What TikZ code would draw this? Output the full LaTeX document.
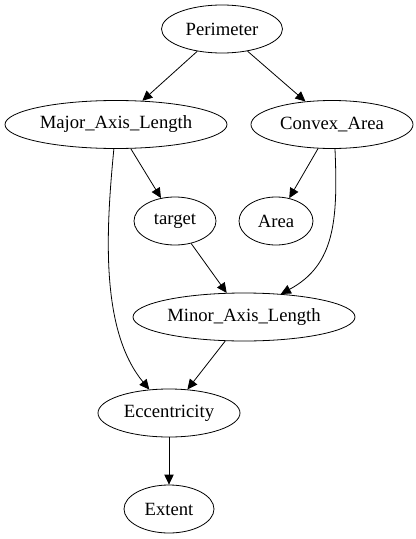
\documentclass[tikz,border=0pt]{standalone}
\usepackage{fontspec}
\setmainfont{Liberation Serif}
\usetikzlibrary{shapes.geometric,arrows.meta}
\begin{document}
\begin{tikzpicture} [x=0.75pt, y=-0.75pt, -{Triangle[length=7.5pt, width=7pt]}, line width = 0.6pt, font=\fontsize{14}{17}\selectfont, every node/.style={draw, ellipse, inner sep=0pt, minimum height=36pt}]

\useasboundingbox (0,0) rectangle (416,539);

\node at (222,29) [minimum width=90.75pt] (per) {Perimeter};
\node at (116,124.5) [minimum width=166.5pt] (maj) {Major\_Axis\_Length};
\node at (332,124.5) [minimum width=121.5pt] (cvx) {Convex\_Area};
\node at (175,221) [minimum width=61.5pt] (tgt) {target};
\node at (276,221) [minimum width=55.5pt] (area) {Area};
\node at (244,317) [minimum width=166.5pt] (mnr) {Minor\_Axis\_Length};
\node at (169,413) [minimum width=106.5pt] (ecc) {Eccentricity};
\node at (169,509) [minimum width=67.5pt] (ext) {Extent};

\path (per) edge (maj);
\path (per) edge (cvx);
\path (maj) edge (tgt);
\path (cvx) edge (area);
\path (tgt) edge (mnr);
\path (mnr) edge (ecc);
\path (ecc) edge (ext);

% curved ones
\draw (maj.265) .. controls (106,230) and (100,330) .. (ecc.130);
\draw (cvx.277) .. controls (338,220) and (335,265) .. (mnr.32);

\end{tikzpicture}
\end{document}
